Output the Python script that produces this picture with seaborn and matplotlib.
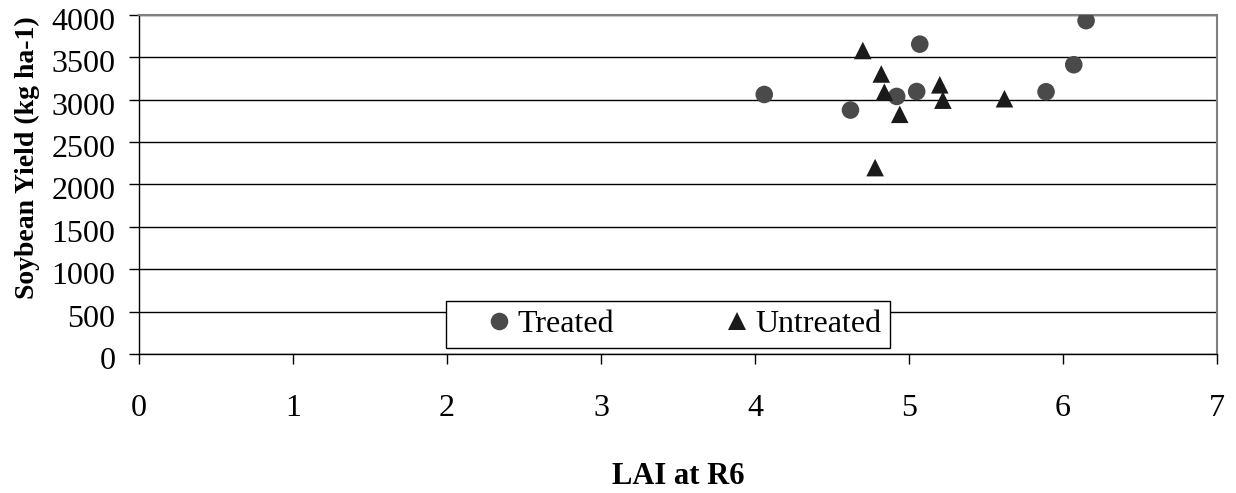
import matplotlib
matplotlib.use("Agg")
import matplotlib.pyplot as plt
import matplotlib.transforms as mtransforms
import seaborn as sns
import pandas as pd

treated_lai = [4.06, 4.62, 4.92, 5.05, 5.07, 5.89, 6.07, 6.15]
treated_yield = [3062, 2878, 3039, 3097, 3656, 3094, 3413, 3933]
untreated_lai = [4.70, 4.82, 4.84, 4.94, 5.20, 5.22, 5.62, 4.78]
untreated_yield = [3581, 3304, 3089, 2828, 3176, 2995, 3012, 2199]
groups = ["Treated", "Untreated"]

df = pd.DataFrame({
    "LAI": treated_lai + untreated_lai,
    "Yield": treated_yield + untreated_yield,
    "Group": [groups[0]] * len(treated_lai) + [groups[1]] * len(untreated_lai),
})

sns.set_style("white")
plt.rcParams["font.family"] = ["Liberation Serif", "DejaVu Serif"]
plt.rcParams["text.color"] = "black"
plt.rcParams["axes.labelcolor"] = "black"
plt.rcParams["xtick.color"] = "black"
plt.rcParams["ytick.color"] = "black"

fig = plt.figure(figsize=(12.36, 4.93), dpi=100)
ax = fig.add_axes([0.1125, 0.282, 0.8721, 0.6876])

sns.scatterplot(data=df, x="LAI", y="Yield", hue="Group", style="Group",
                markers={"Treated": "o", "Untreated": "^"},
                palette={"Treated": "#4a4a4a", "Untreated": "#1a1a1a"},
                s=160, linewidth=0, ax=ax, legend=True, zorder=3)

ax.set_xlim(0, 7)
ax.set_ylim(0, 4000)
ax.set_xticks(range(0, 8))
ax.set_yticks(range(0, 4001, 500))
ax.yaxis.grid(True, color="black", linewidth=1.0)
ax.xaxis.grid(False)
ax.set_axisbelow(True)

for side in ["top", "right"]:
    ax.spines[side].set_color("#808080")
    ax.spines[side].set_linewidth(1.5)
for side in ["left", "bottom"]:
    ax.spines[side].set_color("black")
    ax.spines[side].set_linewidth(1.0)

ax.tick_params(axis="both", which="major", labelsize=23, direction="out",
               length=7.5, width=1, color="black", labelcolor="black",
               bottom=True, left=True)
ax.tick_params(axis="x", pad=21)
ax.tick_params(axis="y", pad=9.5)

# Excel-style: y tick labels sit slightly below their tick marks
offset = mtransforms.ScaledTranslation(0, -4 / 100, fig.dpi_scale_trans)
for lab in ax.get_yticklabels():
    lab.set_transform(lab.get_transform() + offset)

ax.set_xlabel("LAI at R6", fontsize=22, fontweight="bold", va="center")
ax.xaxis.set_label_coords(0.5, -0.36)
ax.set_ylabel("Soybean Yield (kg ha-1)", fontsize=20, fontweight="bold", va="center")
ax.yaxis.set_label_coords(-0.104, 0.58)

handles, labels = ax.get_legend_handles_labels()
leg = ax.legend(handles, labels, ncol=2, loc="lower left",
                bbox_to_anchor=(0.285, 0.0177, 0.412, 0.1327), mode="expand",
                frameon=True, fancybox=False, fontsize=23, borderpad=0.28,
                handlelength=2.76, handletextpad=-0.82, markerscale=1.0,
                borderaxespad=0)
leg.get_frame().set_edgecolor("black")
leg.get_frame().set_linewidth(1.0)
leg.get_frame().set_alpha(1)

fig.savefig("out.png", dpi=100)
